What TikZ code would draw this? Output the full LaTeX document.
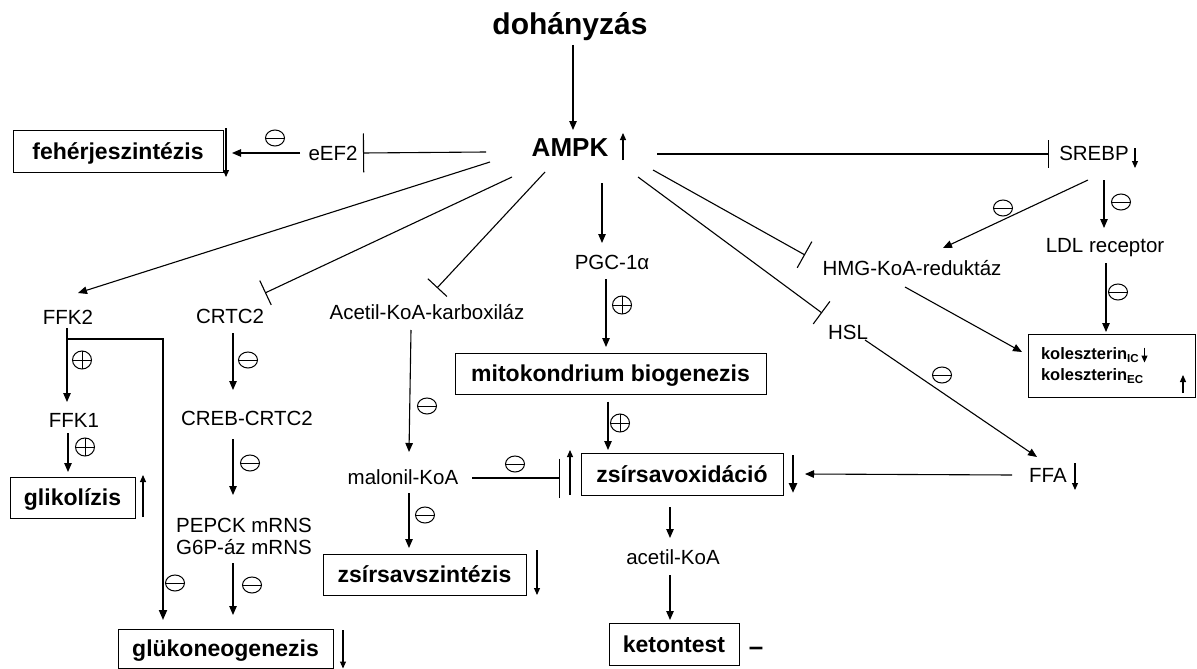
\documentclass[tikz,border=0pt]{standalone}
\usepackage{fontspec}
\setmainfont{Liberation Sans}
\usetikzlibrary{arrows.meta,shapes.geometric,calc}
\begin{document}
\begin{tikzpicture}[x=1pt,y=-1pt,
  lbl/.style={font=\fontsize{20.5}{24}\selectfont, inner sep=0pt, text height=14.7pt, text depth=0pt},
  bx/.style={draw, line width=1pt, font=\bfseries\fontsize{23}{26}\selectfont, inner sep=0pt, text height=16.5pt, text depth=0pt},
  ar/.style={line width=1.1pt, -{Triangle[length=9pt,width=7.5pt]}},
  thk/.style={line width=1.8pt, -{Triangle[length=10pt,width=8pt]}},
  st/.style={line width=1.1pt, -{Triangle[length=7pt,width=6pt]}},
  inh/.style={line width=1.1pt, -{Bar[width=#1, line width=1.1pt]}},
  mns/.style={ellipse, draw, line width=1pt, minimum width=19pt, minimum height=16pt, inner sep=0pt,
    path picture={\draw[line width=1pt] (path picture bounding box.west) -- (path picture bounding box.east);}},
  pls/.style={ellipse, draw, line width=1pt, minimum width=19pt, minimum height=18pt, inner sep=0pt,
    path picture={\draw[line width=1pt] (path picture bounding box.west) -- (path picture bounding box.east)
      (path picture bounding box.north) -- (path picture bounding box.south);}}
]
\fill[white] (0,0) rectangle (1197,669);
\useasboundingbox (0,0) rectangle (1197,669);

% ---- nodes ----
\node[font=\bfseries\fontsize{30}{34}\selectfont, inner sep=0pt] (doh) at (570,27) {dohányzás};
\node[font=\bfseries\fontsize{26}{30}\selectfont, inner sep=0pt, text height=19pt, text depth=0pt] (ampk) at (570,147) {AMPK};

\node[bx, minimum width=210pt, minimum height=42pt] (feh) at (118,151) {fehérjeszintézis};
\node[lbl] (eef2) at (333,153) {eEF2};
\node[lbl] (srebp) at (1094,153) {SREBP};
\node[lbl] (ldl) at (1105,245) {LDL receptor};
\node[lbl] (hmg) at (912,268) {HMG-KoA-reduktáz};
\node[draw, line width=1pt, align=left, text width=141pt, inner xsep=13pt, inner ysep=0pt,
      minimum height=63pt, font=\bfseries\fontsize{16.5}{21}\selectfont] (kol) at (1111.5,365.5)
      {koleszterin\textsubscript{IC}\\koleszterin\textsubscript{EC}};
\node[lbl] (hsl) at (848,332) {HSL};
\node[lbl] (ffa) at (1048,475) {FFA};
\node[lbl] (pgc) at (612,262) {PGC-1α};
\node[bx, minimum width=311pt, minimum height=41pt] (mito) at (610.5,373.5) {mitokondrium biogenezis};
\node[bx, minimum width=202pt, minimum height=42pt] (zox) at (682,474) {zsírsavoxidáció};
\node[lbl] (acetil) at (673,557) {acetil-KoA};
\node[bx, minimum width=130pt, minimum height=42pt] (keton) at (674,644) {ketontest};
\node[font=\bfseries\fontsize{26}{30}\selectfont, inner sep=0pt, anchor=base] (dash) at (756,655) {–};
\node[lbl] (acc) at (427,312) {Acetil-KoA-karboxiláz};
\node[lbl] (malonil) at (403,477) {malonil-KoA};
\node[bx, minimum width=203pt, minimum height=41pt] (zsz) at (424.5,574.5) {zsírsavszintézis};
\node[lbl] (crtc2) at (230,316) {CRTC2};
\node[lbl] (creb) at (247,418) {CREB-CRTC2};
\node[font=\fontsize{20.5}{22}\selectfont, align=center, inner sep=0pt] (pepck) at (244,536) {PEPCK mRNS\\G6P-áz mRNS};
\node[bx, minimum width=215pt, minimum height=39pt] (gluk) at (225.5,648.5) {glükoneogenezis};
\node[lbl] (ffk2) at (68,317) {FFK2};
\node[lbl] (ffk1) at (74,420) {FFK1};
\node[bx, minimum width=125pt, minimum height=41pt] (glik) at (72.5,497.5) {glikolízis};

% ---- minus / plus signs ----
\node[mns] (m1) at (275,138) {};
\node[mns] (m2) at (1003,208) {};
\node[mns] (m3) at (1121,202) {};
\node[mns] (m4) at (1118,292) {};
\node[mns] (m5) at (942,375) {};
\node[mns] (m6) at (515,464) {};
\node[mns] (m7) at (427,406) {};
\node[mns] (m8) at (425,515) {};
\node[mns] (m9) at (248,360) {};
\node[mns] (m10) at (250,463) {};
\node[mns] (m11) at (252,585) {};
\node[mns] (m12) at (175,583) {};
\node[pls] (p1) at (620,423) {};
\node[pls] (p2) at (622,305) {};
\node[pls] (p3) at (82,360) {};
\node[pls] (p4) at (85,447) {};

% ---- connectors ----
\draw[ar] ($(doh)+(3,18)$) -- ($(ampk)+(3,-17)$);
\draw[inh=39pt] ($(ampk)+(-84,5)$) -- ($(eef2)+(30,0)$);
\draw[ar] ($(eef2)+(-33,0)$) -- ($(feh)+(114,2)$);
\draw[inh=28pt] ($(ampk)+(87,7)$) -- ($(srebp)+(-45,1)$);
\draw[ar] ($(srebp)+(-6,27)$) -- ($(hmg)+(31,-20)$);
\draw[ar] ($(srebp)+(10,27)$) -- ($(ldl)+(-1,-17)$);
\draw[ar] ($(ldl)+(1,18)$) -- ($(kol)+(-5.5,-33.5)$);
\draw[inh=30pt] ($(ampk)+(83,23)$) -- ($(hmg)+(-107,-13)$);
\draw[inh=28pt] ($(ampk)+(68,30)$) -- ($(hsl)+(-26,-19)$);
\draw[ar] ($(hmg)+(-7,19)$) -- ($(kol)+(-89.5,-13.5)$);
\draw[ar] ($(hsl)+(17,8)$) -- ($(ffa)+(-11,-18)$);
\draw[ar] ($(ffa)+(-36,0)$) -- ($(zox)+(123,0)$);
\draw[inh=39pt] ($(malonil)+(69,1)$) -- ($(zox)+(-122,4)$);
\draw[ar] ($(mito)+(-2.5,28)$) -- ($(zox)+(-74,-24)$);
\draw[ar] ($(ampk)+(32,36)$) -- ($(pgc)+(-10,-19)$);
\draw[ar] ($(pgc)+(-6,17)$) -- ($(mito)+(-4.5,-26.5)$);
\draw[ar] ($(zox)+(-12,33)$) -- ($(acetil)+(-3,-19)$);
\draw[ar] ($(acetil)+(-3,18)$) -- ($(keton)+(-4,-24)$);
\draw[inh=26pt] ($(ampk)+(-25,25)$) -- ($(acc)+(10,-24)$);
\draw[ar] ($(acc)+(-16,18)$) -- ($(malonil)+(6,-25)$);
\draw[ar] ($(malonil)+(6,16)$) -- ($(zsz)+(-15.5,-26.5)$);
\draw[inh=27pt] ($(ampk)+(-58,30)$) -- ($(crtc2)+(35,-23)$);
\draw[ar] ($(crtc2)+(3,17)$) -- ($(creb)+(-14,-28)$);
\draw[ar] ($(creb)+(-14,21)$) -- ($(pepck)+(-11,-41)$);
\draw[ar] ($(pepck)+(-11,27)$) -- ($(gluk)+(7.5,-33.5)$);
\draw[ar] ($(ampk)+(-80,15)$) -- ($(ffk2)+(10,-24)$);
\draw[ar] ($(ffk2)+(-1,11)$) -- ($(ffk1)+(-7,-18)$);
\draw[thk] ($(ffk2)+(-1,22)$) -| ($(gluk)+(-62.5,-28.5)$);
\draw[ar] ($(ffk1)+(-6,13)$) -- ($(glik)+(-4.5,-25.5)$);

% ---- status arrows ----
\draw[st] ($(ampk)+(53,13)$) -- ($(ampk)+(53,-14)$);
\draw[st] ($(feh)+(108,-23)$) -- ($(feh)+(108,26)$);
\draw[st] ($(srebp)+(41,-5)$) -- ($(srebp)+(41,15)$);
\draw[st] ($(kol)+(33,-18)$) -- ($(kol)+(33,-3)$);
\draw[st] ($(kol)+(71.5,27.5)$) -- ($(kol)+(71.5,9.5)$);
\draw[st] ($(ffa)+(27,-12)$) -- ($(ffa)+(27,15)$);
\draw[thk, line width=2.6pt] ($(zox)+(111,-19)$) -- ($(zox)+(111,19)$);
\draw[st] ($(zox)+(-112,21)$) -- ($(zox)+(-112,-24)$);
\draw[st] ($(zsz)+(112.5,-24.5)$) -- ($(zsz)+(112.5,20.5)$);
\draw[st] ($(gluk)+(117.5,-18.5)$) -- ($(gluk)+(117.5,20)$);
\draw[st] ($(glik)+(70.5,19.5)$) -- ($(glik)+(70.5,-22.5)$);
\end{tikzpicture}
\end{document}
